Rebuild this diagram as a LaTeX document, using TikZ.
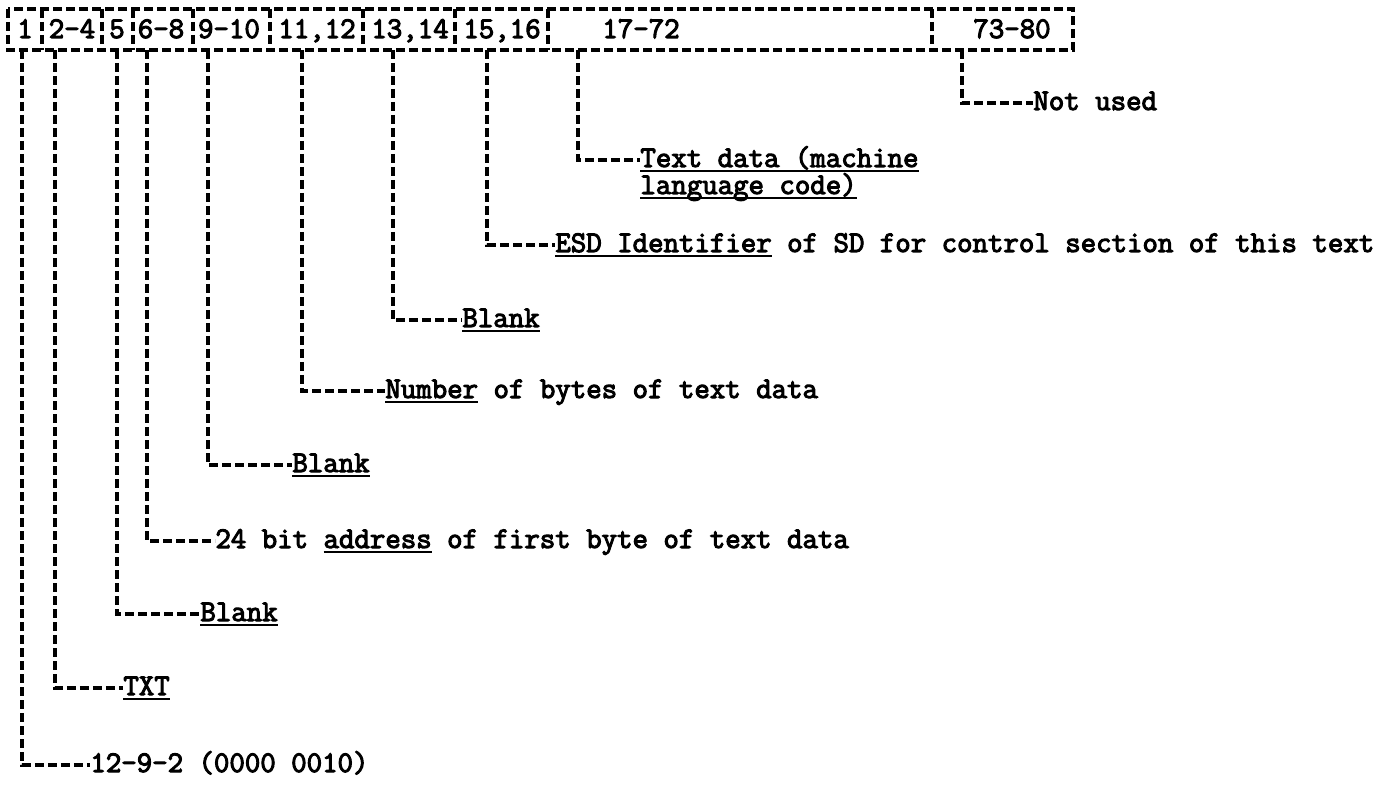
\documentclass[tikz,border=0pt]{standalone}
\usepackage{fontspec}
\newfontfamily\tfont[FakeBold=3.5]{Latin Modern Mono}
\newcommand\lbfont{\tfont\fontsize{15}{17}\selectfont}
\newsavebox\ulbox
\newcommand\ulx[1]{\sbox\ulbox{#1}\rlap{\rule[-2.4pt]{\wd\ulbox}{1.1pt}}\usebox\ulbox}
\begin{document}
\begin{tikzpicture}[x=0.5pt,y=-0.5pt,
  dl/.style={line width=1.9pt,dash pattern=on 4.6pt off 1.9pt},
  cell/.style={anchor=base,inner sep=0pt,font=\lbfont},
  lbl/.style={anchor=west,inner sep=0pt,font=\lbfont,text height=9.5pt,text depth=2.5pt}]
\useasboundingbox (0,0) rectangle (1381,786);
% record box
\draw[dl] (8,9) rectangle (1073,50);
\foreach \x in {42,102,133,193,270,363,455,548,932}
  \draw[dl] (\x,9) -- (\x,50);
\node[cell] (f1) at (25,38) {1};
\node[cell] (f2) at (72,38) {2-4};
\node[cell] (f3) at (117,38) {5};
\node[cell] (f4) at (161,38) {6-8};
\node[cell] (f5) at (229,38) {9-10};
\node[cell] (f6) at (317,38) {11,12};
\node[cell] (f7) at (410,38) {13,14};
\node[cell] (f8) at (502,38) {15,16};
\node[cell] (f9) at (641,38) {17-72};
\node[cell] (f10) at (1012,38) {73-80};
% leader tops
\coordinate (t1) at (22,50);
\coordinate (t2) at (55,50);
\coordinate (t3) at (117,50);
\coordinate (t4) at (147,50);
\coordinate (t5) at (208,50);
\coordinate (t6) at (302,50);
\coordinate (t7) at (393,50);
\coordinate (t8) at (487,50);
\coordinate (t9) at (578,50);
\coordinate (t10) at (962,50);
% labels
\node[lbl] (l10) at (1033,103) {Not used};
\node[lbl] (l9) at (640,160) {\ulx{Text data (machine}};
\node[lbl] (l9b) at (640,187) {\ulx{language code)}};
\node[lbl] (l8) at (555,245) {\ulx{ESD Identifier} of SD for control section of this text};
\node[lbl] (l7) at (462,320) {\ulx{Blank}};
\node[lbl] (l6) at (385,391) {\ulx{Number} of bytes of text data};
\node[lbl] (l5) at (292,465) {\ulx{Blank}};
\node[lbl] (l4) at (215,541) {24 bit \ulx{address} of first byte of text data};
\node[lbl] (l3) at (200,614) {\ulx{Blank}};
\node[lbl] (l2) at (123,688) {\ulx{TXT}};
\node[lbl] (l1) at (90,765) {12-9-2 (0000 0010)};
% leaders
\foreach \i in {1,...,10}
  \draw[dl] (t\i) |- (l\i.west);
\end{tikzpicture}
\end{document}
